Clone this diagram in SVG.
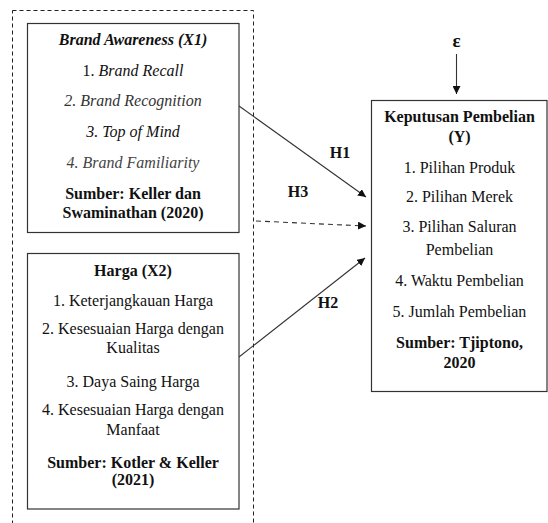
<svg xmlns="http://www.w3.org/2000/svg" width="548" height="523" viewBox="0 0 548 523">
<style>
text{font-family:"Liberation Serif","Times New Roman",serif;font-size:16px;fill:#111;text-anchor:middle}
.b{font-weight:bold}
.i{font-style:italic}
.box{fill:#fff;stroke:#333;stroke-width:1.2}
.ln{stroke:#333;stroke-width:1.1;fill:none}
</style>
<defs>
<marker id="ah" viewBox="0 0 10 10" refX="10" refY="5" markerWidth="8" markerHeight="8" markerUnits="userSpaceOnUse" orient="auto">
<path d="M0,0 L10,5 L0,10 z" fill="#111"/>
</marker>
</defs>
<rect id="group-x" x="12.5" y="10.5" width="241" height="520" fill="none" stroke="#222" stroke-width="1" stroke-dasharray="4,3"/>
<g id="connectors">
<line class="ln" x1="239" y1="106" x2="366" y2="197" marker-end="url(#ah)"/>
<line class="ln" x1="256" y1="221" x2="366" y2="226" stroke-dasharray="5,4" marker-end="url(#ah)"/>
<line class="ln" x1="239" y1="357" x2="365" y2="258" marker-end="url(#ah)"/>
<line class="ln" x1="456.5" y1="54" x2="456.5" y2="94" marker-end="url(#ah)"/>
<text class="b" x="340" y="158">H1</text>
<text class="b" x="298" y="197">H3</text>
<text class="b" x="328" y="308">H2</text>
<text class="b" x="456.5" y="47" style="font-size:19px">ε</text>
</g>
<g id="x1">
<rect class="box" x="27.5" y="23.5" width="211.5" height="209"/>
<text class="b i" x="133" y="45">Brand Awareness (X1)</text>
<text x="133" y="76">1. <tspan class="i">Brand Recall</tspan></text>
<text class="i" x="133" y="106" style="fill:#333">2. Brand Recognition</text>
<text class="i" x="133" y="137">3. Top of Mind</text>
<text class="i" x="133" y="168" style="fill:#444">4. Brand Familiarity</text>
<text class="b" x="133" y="199">Sumber: Keller dan</text>
<text class="b" x="133" y="218">Swaminathan (2020)</text>
</g>
<g id="x2">
<rect class="box" x="27.5" y="253.5" width="211.5" height="255.5"/>
<text class="b" x="133" y="276">Harga (X2)</text>
<text x="133" y="306">1. Keterjangkauan Harga</text>
<text x="133" y="334">2. Kesesuaian Harga dengan</text>
<text x="133" y="353">Kualitas</text>
<text x="133" y="387">3. Daya Saing Harga</text>
<text x="133" y="415">4. Kesesuaian Harga dengan</text>
<text x="133" y="435">Manfaat</text>
<text class="b" x="133" y="468">Sumber: Kotler &amp; Keller</text>
<text class="b" x="133" y="485">(2021)</text>
</g>
<g id="y">
<rect class="box" x="371.5" y="100.5" width="175.5" height="291"/>
<text class="b" x="459.5" y="122">Keputusan Pembelian</text>
<text class="b" x="459.5" y="142">(Y)</text>
<text x="459.5" y="173">1. Pilihan Produk</text>
<text x="459.5" y="202">2. Pilihan Merek</text>
<text x="459.5" y="232">3. Pilihan Saluran</text>
<text x="459.5" y="255">Pembelian</text>
<text x="459.5" y="286">4. Waktu Pembelian</text>
<text x="459.5" y="317">5. Jumlah Pembelian</text>
<text class="b" x="459.5" y="348">Sumber: Tjiptono,</text>
<text class="b" x="459.5" y="368">2020</text>
</g>
</svg>
